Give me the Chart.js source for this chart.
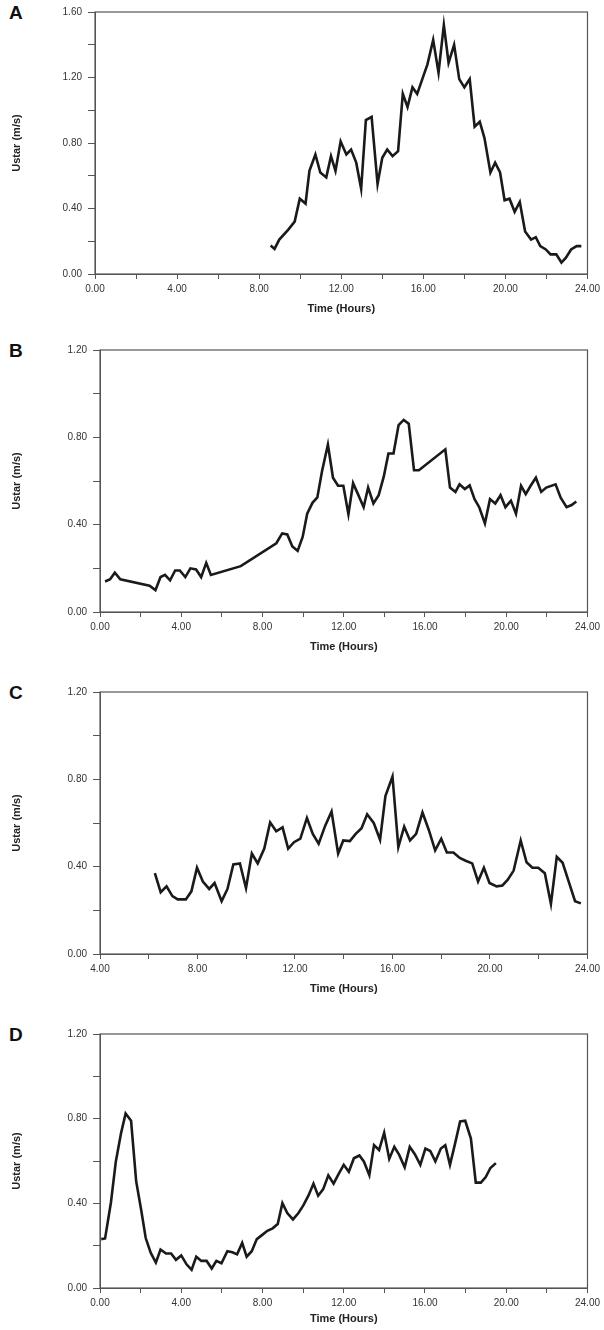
<!DOCTYPE html>
<html><head><meta charset="utf-8">
<script src="https://cdn.jsdelivr.net/npm/chart.js@4/dist/chart.umd.min.js"></script>
<style>
body{margin:0;background:#fff;width:604px;height:1330px;position:relative;font-family:Arial,"Liberation Sans",sans-serif}
.lbl{position:absolute;left:9px;font-weight:bold;font-size:19px;color:#111}
.wrap{position:absolute;left:0;width:604px}
</style></head><body>
<div class="lbl" style="top:2px">A</div>
<div class="lbl" style="top:340px">B</div>
<div class="lbl" style="top:682px">C</div>
<div class="lbl" style="top:1024px">D</div>
<div class="wrap" style="top:0;height:320px"><canvas id="cA"></canvas></div>
<div class="wrap" style="top:338px;height:320px"><canvas id="cB"></canvas></div>
<div class="wrap" style="top:680px;height:320px"><canvas id="cC"></canvas></div>
<div class="wrap" style="top:1022px;height:308px"><canvas id="cD"></canvas></div>
<script>
const timeA=[8.56,8.75,8.98,9.41,9.73,9.98,10.26,10.45,10.74,10.98,11.27,11.5,11.72,11.97,12.25,12.48,12.73,12.97,13.2,13.48,13.77,14.0,14.24,14.5,14.77,15.0,15.23,15.47,15.7,15.95,16.2,16.48,16.74,17.0,17.23,17.5,17.75,18.0,18.26,18.5,18.75,18.98,19.27,19.5,19.74,19.96,20.2,20.45,20.7,20.96,21.25,21.48,21.7,21.97,22.2,22.48,22.73,22.95,23.2,23.47,23.7];
const ustarA=[0.174,0.153,0.21,0.27,0.32,0.46,0.43,0.63,0.73,0.62,0.59,0.72,0.63,0.81,0.73,0.76,0.68,0.52,0.94,0.96,0.55,0.71,0.76,0.72,0.75,1.10,1.02,1.14,1.10,1.19,1.28,1.43,1.23,1.52,1.29,1.40,1.19,1.14,1.19,0.90,0.93,0.83,0.62,0.68,0.62,0.45,0.46,0.38,0.44,0.26,0.21,0.225,0.17,0.15,0.12,0.12,0.07,0.10,0.15,0.17,0.17];
const timeB=[0.25,0.5,0.73,1.0,2.44,2.73,2.98,3.2,3.45,3.7,3.93,4.2,4.45,4.73,4.98,5.23,5.46,6.93,8.68,8.97,9.22,9.47,9.73,9.98,10.2,10.46,10.7,10.93,11.22,11.47,11.72,11.98,12.23,12.46,12.7,12.98,13.2,13.46,13.72,13.97,14.2,14.45,14.7,14.95,15.2,15.46,15.7,17.0,17.23,17.5,17.7,17.96,18.2,18.44,18.67,18.95,19.2,19.46,19.72,19.96,20.23,20.48,20.73,20.96,21.2,21.46,21.72,21.97,22.43,22.68,22.97,23.22,23.45];
const ustarB=[0.14,0.15,0.18,0.15,0.12,0.10,0.16,0.17,0.145,0.19,0.19,0.16,0.20,0.195,0.16,0.225,0.17,0.21,0.315,0.36,0.355,0.30,0.28,0.345,0.45,0.50,0.525,0.645,0.767,0.615,0.578,0.578,0.448,0.59,0.54,0.48,0.57,0.497,0.535,0.62,0.726,0.726,0.856,0.88,0.862,0.649,0.649,0.745,0.57,0.55,0.585,0.563,0.58,0.517,0.48,0.406,0.517,0.497,0.535,0.48,0.51,0.45,0.578,0.54,0.578,0.615,0.55,0.57,0.585,0.524,0.48,0.49,0.506];
const timeC=[6.25,6.49,6.73,6.97,7.19,7.36,7.52,7.75,7.98,8.22,8.48,8.7,8.99,9.23,9.47,9.74,9.99,10.23,10.47,10.74,10.98,11.23,11.49,11.72,11.96,12.22,12.49,12.73,12.97,13.24,13.5,13.77,13.98,14.25,14.49,14.73,14.96,15.23,15.49,15.71,16.0,16.24,16.48,16.72,16.97,17.23,17.49,17.75,18.0,18.23,18.5,18.76,19.0,19.27,19.51,19.75,19.98,20.27,20.51,20.73,20.97,21.26,21.5,21.74,21.98,22.25,22.5,22.74,22.98,23.25,23.49,23.73];
const ustarC=[0.37,0.283,0.31,0.265,0.25,0.25,0.25,0.287,0.395,0.332,0.298,0.325,0.242,0.298,0.41,0.415,0.302,0.46,0.415,0.483,0.603,0.562,0.58,0.483,0.512,0.528,0.623,0.55,0.505,0.588,0.653,0.46,0.52,0.517,0.55,0.576,0.64,0.6,0.523,0.723,0.813,0.49,0.583,0.52,0.55,0.648,0.568,0.475,0.528,0.465,0.465,0.44,0.427,0.415,0.332,0.395,0.325,0.31,0.314,0.34,0.382,0.52,0.42,0.395,0.395,0.37,0.23,0.445,0.418,0.325,0.242,0.232];
const timeD=[0.06,0.25,0.54,0.78,1.03,1.26,1.53,1.78,2.03,2.25,2.5,2.75,2.98,3.25,3.5,3.74,4.0,4.26,4.51,4.74,4.99,5.25,5.5,5.73,5.98,6.27,6.52,6.75,7.0,7.22,7.47,7.72,7.99,8.24,8.5,8.75,8.98,9.22,9.5,9.77,10.01,10.26,10.51,10.74,10.99,11.24,11.5,11.75,12.0,12.25,12.5,12.77,12.99,13.26,13.49,13.74,13.99,14.24,14.49,14.73,15.0,15.25,15.5,15.77,16.02,16.26,16.51,16.78,17.0,17.23,17.48,17.73,17.98,18.26,18.5,18.75,18.99,19.22,19.49];
const ustarD=[0.231,0.234,0.405,0.598,0.729,0.824,0.79,0.505,0.367,0.236,0.166,0.12,0.182,0.163,0.163,0.133,0.154,0.112,0.086,0.148,0.128,0.128,0.092,0.128,0.117,0.174,0.169,0.159,0.213,0.148,0.174,0.231,0.251,0.27,0.282,0.302,0.401,0.354,0.324,0.354,0.39,0.436,0.493,0.436,0.467,0.532,0.493,0.539,0.582,0.549,0.613,0.626,0.598,0.533,0.675,0.652,0.734,0.61,0.667,0.629,0.57,0.667,0.632,0.582,0.659,0.647,0.598,0.659,0.675,0.582,0.682,0.787,0.79,0.706,0.498,0.498,0.524,0.567,0.59];

const frame={id:'frame',afterDraw(c){const a=c.chartArea,x=c.ctx;x.save();x.strokeStyle='#555';x.lineWidth=1.2;x.strokeRect(a.left,a.top,a.right-a.left,a.bottom-a.top);x.restore();}};
function make(id,t,u,xmin,ymax,L,H){
  const pts=t.map((v,i)=>({x:v,y:u[i]}));
  new Chart(document.getElementById(id),{type:'line',
    data:{datasets:[{data:pts,borderColor:'#1a1a1a',borderWidth:2.6,pointRadius:0,tension:0,fill:false}]},
    options:{responsive:true,maintainAspectRatio:false,animation:false,
      plugins:{legend:{display:false},tooltip:{enabled:false}},
      layout:{padding:{top:10,right:16,left:6,bottom:0}},
      scales:{
        x:{type:'linear',min:xmin,max:24,border:{color:'#555'},
          grid:{drawOnChartArea:false,tickLength:5,color:'#555'},
          ticks:{stepSize:2,autoSkip:false,maxRotation:0,color:'#333',font:{size:10,family:'Arial'},padding:4,
            callback:v=>(Math.round(v)%4===0)?Number(v).toFixed(2):''},
          title:{display:true,text:'Time (Hours)',color:'#222',font:{size:11,weight:'bold',family:'Arial'},padding:{top:4}},
          afterFit:s=>{s.height=H;}},
        y:{min:0,max:ymax,border:{color:'#555'},
          grid:{drawOnChartArea:false,tickLength:7,color:'#555'},
          ticks:{stepSize:0.2,autoSkip:false,color:'#333',font:{size:10,family:'Arial'},padding:6,
            callback:v=>(Math.round(v*10)%4===0)?Number(v).toFixed(2):''},
          title:{display:true,text:'Ustar (m/s)',color:'#222',font:{size:11,weight:'bold',family:'Arial'},padding:{bottom:14}},
          afterFit:s=>{s.width=L;}}
      }},plugins:[frame]});
}
make('cA',timeA,ustarA,0,1.6,89,46);
make('cB',timeB,ustarB,0,1.2,94,46);
make('cC',timeC,ustarC,4,1.2,94,46);
make('cD',timeD,ustarD,0,1.2,94,42);
</script></body></html>
